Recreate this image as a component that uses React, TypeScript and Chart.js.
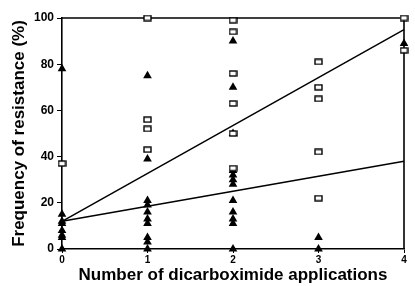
import React, { useEffect, useRef } from "react";
import { Chart, registerables } from "chart.js";

Chart.register(...registerables);

// Number of dicarboximide applications
const applications = [0, 1, 2, 3, 4];

// Filled triangles: frequency of resistance (%) per application count
const triangleValues: number[][] = [
  [78, 15, 12, 11, 8, 6, 5, 0],
  [75, 39, 21, 19, 16, 13, 11, 5, 3, 0],
  [90, 70, 50, 34, 32, 30, 28, 21, 16, 13, 11, 0],
  [5, 0],
  [89],
];

// Open squares: frequency of resistance (%) per application count
const squareValues: number[][] = [
  [37],
  [100, 56, 52, 43],
  [99, 94, 76, 63, 50, 35],
  [81, 70, 65, 42, 22],
  [100, 86],
];

// Regression lines (endpoints at 0 and 4 applications)
const lineX = [0, 4];
const upperLine = [12, 95];
const lowerLine = [12, 38];

const yTicks = [0, 20, 40, 60, 80, 100];

const FONT = "'Liberation Sans', Arial, Helvetica, sans-serif";

function toPoints(groups: number[][]) {
  const pts: { x: number; y: number }[] = [];
  groups.forEach((vals, i) => vals.forEach((v) => pts.push({ x: applications[i], y: v })));
  return pts;
}

function makeSquare(): HTMLCanvasElement {
  const c = document.createElement("canvas");
  c.width = 9;
  c.height = 7;
  const ctx = c.getContext("2d")!;
  ctx.fillStyle = "#fff";
  ctx.fillRect(1, 1, 7, 5);
  ctx.strokeStyle = "#000";
  ctx.lineWidth = 1.4;
  ctx.strokeRect(1, 1, 7, 5);
  return c;
}

const framePlugin = {
  id: "frame",
  beforeDatasetsDraw(chart: any) {
    const { ctx, chartArea } = chart;
    ctx.save();
    ctx.strokeStyle = "#000";
    ctx.lineWidth = 1.6;
    ctx.beginPath();
    ctx.moveTo(chartArea.left, chartArea.top);
    ctx.lineTo(chartArea.right, chartArea.top);
    ctx.lineTo(chartArea.right, chartArea.bottom);
    ctx.stroke();
    ctx.restore();
  },
};

export default function App() {
  const ref = useRef<HTMLCanvasElement>(null);
  useEffect(() => {
    const square = makeSquare();
    const chart = new Chart(ref.current!, {
      type: "scatter",
      data: {
        datasets: [
          {
            type: "line",
            data: lineX.map((x, i) => ({ x, y: upperLine[i] })),
            borderColor: "#000",
            borderWidth: 1.5,
            pointRadius: 0,
            fill: false,
          },
          {
            type: "line",
            data: lineX.map((x, i) => ({ x, y: lowerLine[i] })),
            borderColor: "#000",
            borderWidth: 1.5,
            pointRadius: 0,
            fill: false,
          },
          {
            data: toPoints(squareValues),
            pointStyle: square as any,
            pointRadius: 4,
            backgroundColor: "#fff",
            borderColor: "#000",
          },
          {
            data: toPoints(triangleValues),
            pointStyle: "triangle",
            pointRadius: 5,
            backgroundColor: "#000",
            borderColor: "#000",
            borderWidth: 0,
          },
        ],
      },
      options: {
        animation: false,
        responsive: false,
        clip: false as any,
        layout: { padding: { left: 0, right: 11, top: 18, bottom: 0 } },
        plugins: { legend: { display: false }, tooltip: { enabled: false } },
        scales: {
          x: {
            type: "linear",
            min: 0,
            max: 4,
            afterFit: (s: any) => {
              s.height = 37;
            },
            ticks: {
              stepSize: 1,
              color: "#000",
              font: { family: FONT, size: 10, weight: "bold" },
              padding: 1,
            },
            grid: { display: true, drawOnChartArea: false, tickLength: 4, color: "#000", lineWidth: 1 },
            border: { color: "#000", width: 1.6 },
            title: {
              display: true,
              text: "Number of dicarboximide applications",
              color: "#000",
              font: { family: FONT, size: 17, weight: "bold" },
              padding: { top: 0, bottom: 0 },
            },
          },
          y: {
            min: 0,
            max: 100,
            afterFit: (s: any) => {
              s.width = 62;
            },
            afterBuildTicks: (s: any) => {
              s.ticks = yTicks.map((v) => ({ value: v }));
            },
            ticks: {
              color: "#000",
              font: { family: FONT, size: 12, weight: "bold" },
              padding: 3,
            },
            grid: { display: true, drawOnChartArea: false, tickLength: 5, color: "#000", lineWidth: 1 },
            border: { color: "#000", width: 1.6 },
            title: {
              display: true,
              text: "Frequency of resistance (%)",
              color: "#000",
              font: { family: FONT, size: 17, weight: "bold" },
              padding: { top: 9, bottom: 0 },
            },
          },
        },
      },
      plugins: [framePlugin],
    });
    return () => chart.destroy();
  }, []);
  return (
    <div style={{ position: "absolute", left: 0, top: 0, width: 415, height: 286, background: "#fff" }}>
      <canvas ref={ref} width={415} height={286} />
    </div>
  );
}
